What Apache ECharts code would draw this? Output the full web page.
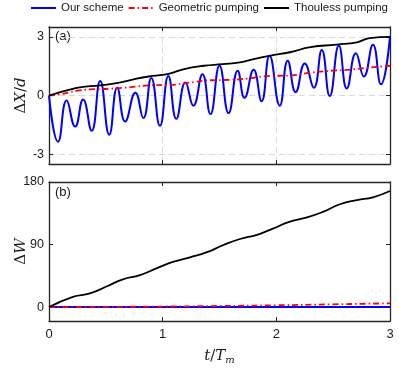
<!DOCTYPE html>
<html>
<head>
<meta charset="utf-8">
<script src="https://cdn.jsdelivr.net/npm/echarts@6/dist/echarts.min.js"></script>
<style>
  html, body { margin: 0; padding: 0; background: #fff; }
  #chart { width: 399px; height: 369px; }
</style>
</head>
<body>
<div id="chart"></div>
<script>
// 图例名称
const seriesNames = ['Our scheme', 'Geometric pumping', 'Thouless pumping']

// (a) 位移 ΔX/d，[t/Tm, 值]
const ourShift = [
  [0, 0], [0.08, -2.36], [0.155, -0.26], [0.23, -1.59], [0.30, -0.2], [0.375, -1.8],
  [0.45, 0.74], [0.53, -2.0], [0.60, 0.40], [0.67, -1.33], [0.76, 0.14], [0.83, -1.15],
  [0.90, 0.9], [0.976, -1.55], [1.05, 1.0], [1.12, -1.19], [1.20, 0.66], [1.27, -0.52],
  [1.35, 1.09], [1.42, -0.95], [1.50, 1.52], [1.58, -0.9], [1.66, 1.26], [1.72, -0.12],
  [1.80, 1.31], [1.87, -0.29], [1.94, 2.03], [2.03, -0.52], [2.10, 1.78], [2.17, 0.17],
  [2.25, 1.64], [2.33, 0.40], [2.40, 2.33], [2.47, -0.03], [2.55, 2.55], [2.62, 0.36],
  [2.70, 2.16], [2.77, 0.97], [2.85, 2.59], [2.92, 0.57], [3.0, 3.0]
]
const geoShift = [
  [0, 0], [0.1, 0.06], [0.185, 0.17], [0.27, 0.26], [0.36, 0.31], [0.54, 0.35],
  [0.71, 0.42], [0.89, 0.52], [1.06, 0.54], [1.24, 0.66], [1.42, 0.78], [1.59, 0.8],
  [1.77, 0.88], [1.94, 1.0], [2.12, 1.02], [2.30, 1.17], [2.47, 1.26], [2.65, 1.32],
  [2.82, 1.43], [3.0, 1.52]
]
const thoulessShift = [
  [0, 0], [0.1, 0.17], [0.2, 0.33], [0.27, 0.42], [0.45, 0.52], [0.62, 0.66],
  [0.77, 0.86], [0.91, 1.0], [1.06, 1.12], [1.18, 1.34], [1.36, 1.52], [1.53, 1.6],
  [1.68, 1.69], [1.80, 1.86], [1.94, 2.03], [2.12, 2.21], [2.30, 2.47], [2.53, 2.6],
  [2.71, 2.72], [2.82, 2.93], [3.0, 3.0]
]

// (b) 能量 ΔW
const ourEnergy = [[0, 0], [1, 0], [2, 0], [3, 0]]
const geoEnergy = [[0, 0], [0.5, 0.3], [1, 0.8], [1.5, 1.6], [2, 2.6], [2.5, 4], [3, 5.5]]
const thoulessEnergy = [
  [0, 0], [0.21, 14.8], [0.36, 19.7], [0.51, 30], [0.65, 40], [0.80, 46], [0.95, 56],
  [1.09, 65], [1.24, 71.6], [1.39, 79], [1.53, 89], [1.68, 98], [1.83, 104], [1.97, 113],
  [2.12, 123], [2.27, 129], [2.41, 137], [2.56, 148], [2.71, 154], [2.85, 158], [3.0, 167]
]

// 刻度
const xTicks = [0, 1, 2, 3]
const shiftTicks = [-3, 0, 3]
const energyTicks = [0, 90, 180]

const boxColor = '#262626'
const labelFont = 'Liberation Sans, Arial, sans-serif'
const mathFont = 'DejaVu Serif, Liberation Serif, serif'

// 坐标轴公共配置
function makeAxis(gridIndex, range, ticks, showLabel, position, grid) {
  return {
    type: 'value',
    gridIndex: gridIndex,
    position: position,
    min: range[0],
    max: range[1],
    nameMoveOverlap: false,
    axisLine: { show: true, onZero: false, lineStyle: { color: boxColor, width: 1.3 } },
    axisTick: { show: true, inside: true, length: 4, customValues: ticks, lineStyle: { color: boxColor, width: 1 } },
    axisLabel: { show: showLabel, customValues: ticks, color: '#1a1a1a', fontSize: 12.5, fontFamily: labelFont, margin: 5 },
    splitLine: { show: grid, lineStyle: { color: '#d9d9d9', type: [6, 4], width: 1 } }
  }
}

const mathRich = {
  r: { fontFamily: mathFont, fontSize: 15, color: '#1a1a1a' },
  i: { fontFamily: mathFont, fontSize: 15, fontStyle: 'italic', color: '#1a1a1a' },
  s: { fontFamily: mathFont, fontSize: 10, fontStyle: 'italic', color: '#1a1a1a', verticalAlign: 'bottom', padding: [8, 0, 0, 0] }
}

const lineStyles = [
  { color: '#0000ff', width: 2, type: 'solid' },
  { color: '#ff0000', width: 1.8, type: [6, 3, 1.5, 3] },
  { color: '#000000', width: 1.8, type: 'solid' }
]

function makeSeries(name, idx, data, axisIndex) {
  return {
    name: name,
    type: 'line',
    xAxisIndex: axisIndex,
    yAxisIndex: axisIndex,
    data: data,
    showSymbol: false,
    symbol: 'none',
    smooth: 0.5,
    animation: false,
    itemStyle: { color: lineStyles[idx].color },
    lineStyle: lineStyles[idx]
  }
}

const xa = makeAxis(0, [0, 3], xTicks, false, 'bottom', true)
const xaTop = makeAxis(0, [0, 3], xTicks, false, 'top', false)
const xb = makeAxis(1, [0, 3], xTicks, true, 'bottom', false)
xb.axisLabel.margin = 7
xb.axisLabel.fontSize = 13
xb.name = '{i|t}{r|/}{i|T}{s|m}'
xb.nameLocation = 'middle'
xb.nameGap = 26
xb.nameTextStyle = { rich: mathRich }
const xbTop = makeAxis(1, [0, 3], xTicks, false, 'top', false)

const ya = makeAxis(0, [-3.5, 3.5], shiftTicks, true, 'left', true)
ya.name = '{r|Δ}{i|X}{r|/}{i|d}'
ya.nameLocation = 'middle'
ya.nameGap = 20
ya.nameRotate = 90
ya.nameTextStyle = { rich: mathRich }
const yaRight = makeAxis(0, [-3.5, 3.5], shiftTicks, false, 'right', false)
const yb = makeAxis(1, [-20, 180], energyTicks, true, 'left', false)
yb.name = '{r|Δ}{i|W}'
yb.nameLocation = 'middle'
yb.nameGap = 20
yb.nameRotate = 90
yb.nameTextStyle = { rich: mathRich }
const ybRight = makeAxis(1, [-20, 180], energyTicks, false, 'right', false)

const option = {
  backgroundColor: '#ffffff',
  animation: false,
  legend: {
    top: 2,
    left: 30,
    padding: 0,
    width: 390,
    itemWidth: 25,
    itemHeight: 2,
    itemGap: 4,
    itemStyle: { color: 'rgba(0,0,0,0)', borderWidth: 0 },
    textStyle: { fontSize: 11.5, fontFamily: labelFont, color: '#1a1a1a' },
    data: seriesNames
  },
  grid: [
    { left: 49, right: 9, top: 27, height: 137, outerBoundsMode: 'none' },
    { left: 49, right: 9, top: 182, height: 139, outerBoundsMode: 'none' }
  ],
  xAxis: [xa, xb, xaTop, xbTop].map((a, i) => Object.assign(a, { gridIndex: i % 2 })),
  yAxis: [ya, yb, yaRight, ybRight].map((a, i) => Object.assign(a, { gridIndex: i % 2 })),
  graphic: [
    { type: 'text', left: 55, top: 30, style: { text: '(a)', fontSize: 13, fontFamily: labelFont, fill: '#1a1a1a' } },
    { type: 'text', left: 55, top: 186, style: { text: '(b)', fontSize: 13, fontFamily: labelFont, fill: '#1a1a1a' } }
  ],
  series: [
    makeSeries(seriesNames[0], 0, ourShift, 0),
    makeSeries(seriesNames[1], 1, geoShift, 0),
    makeSeries(seriesNames[2], 2, thoulessShift, 0),
    makeSeries(seriesNames[0], 0, ourEnergy, 1),
    makeSeries(seriesNames[1], 1, geoEnergy, 1),
    makeSeries(seriesNames[2], 2, thoulessEnergy, 1)
  ]
}

const myChart = echarts.init(document.getElementById('chart'))
myChart.setOption(option)
</script>
</body>
</html>
